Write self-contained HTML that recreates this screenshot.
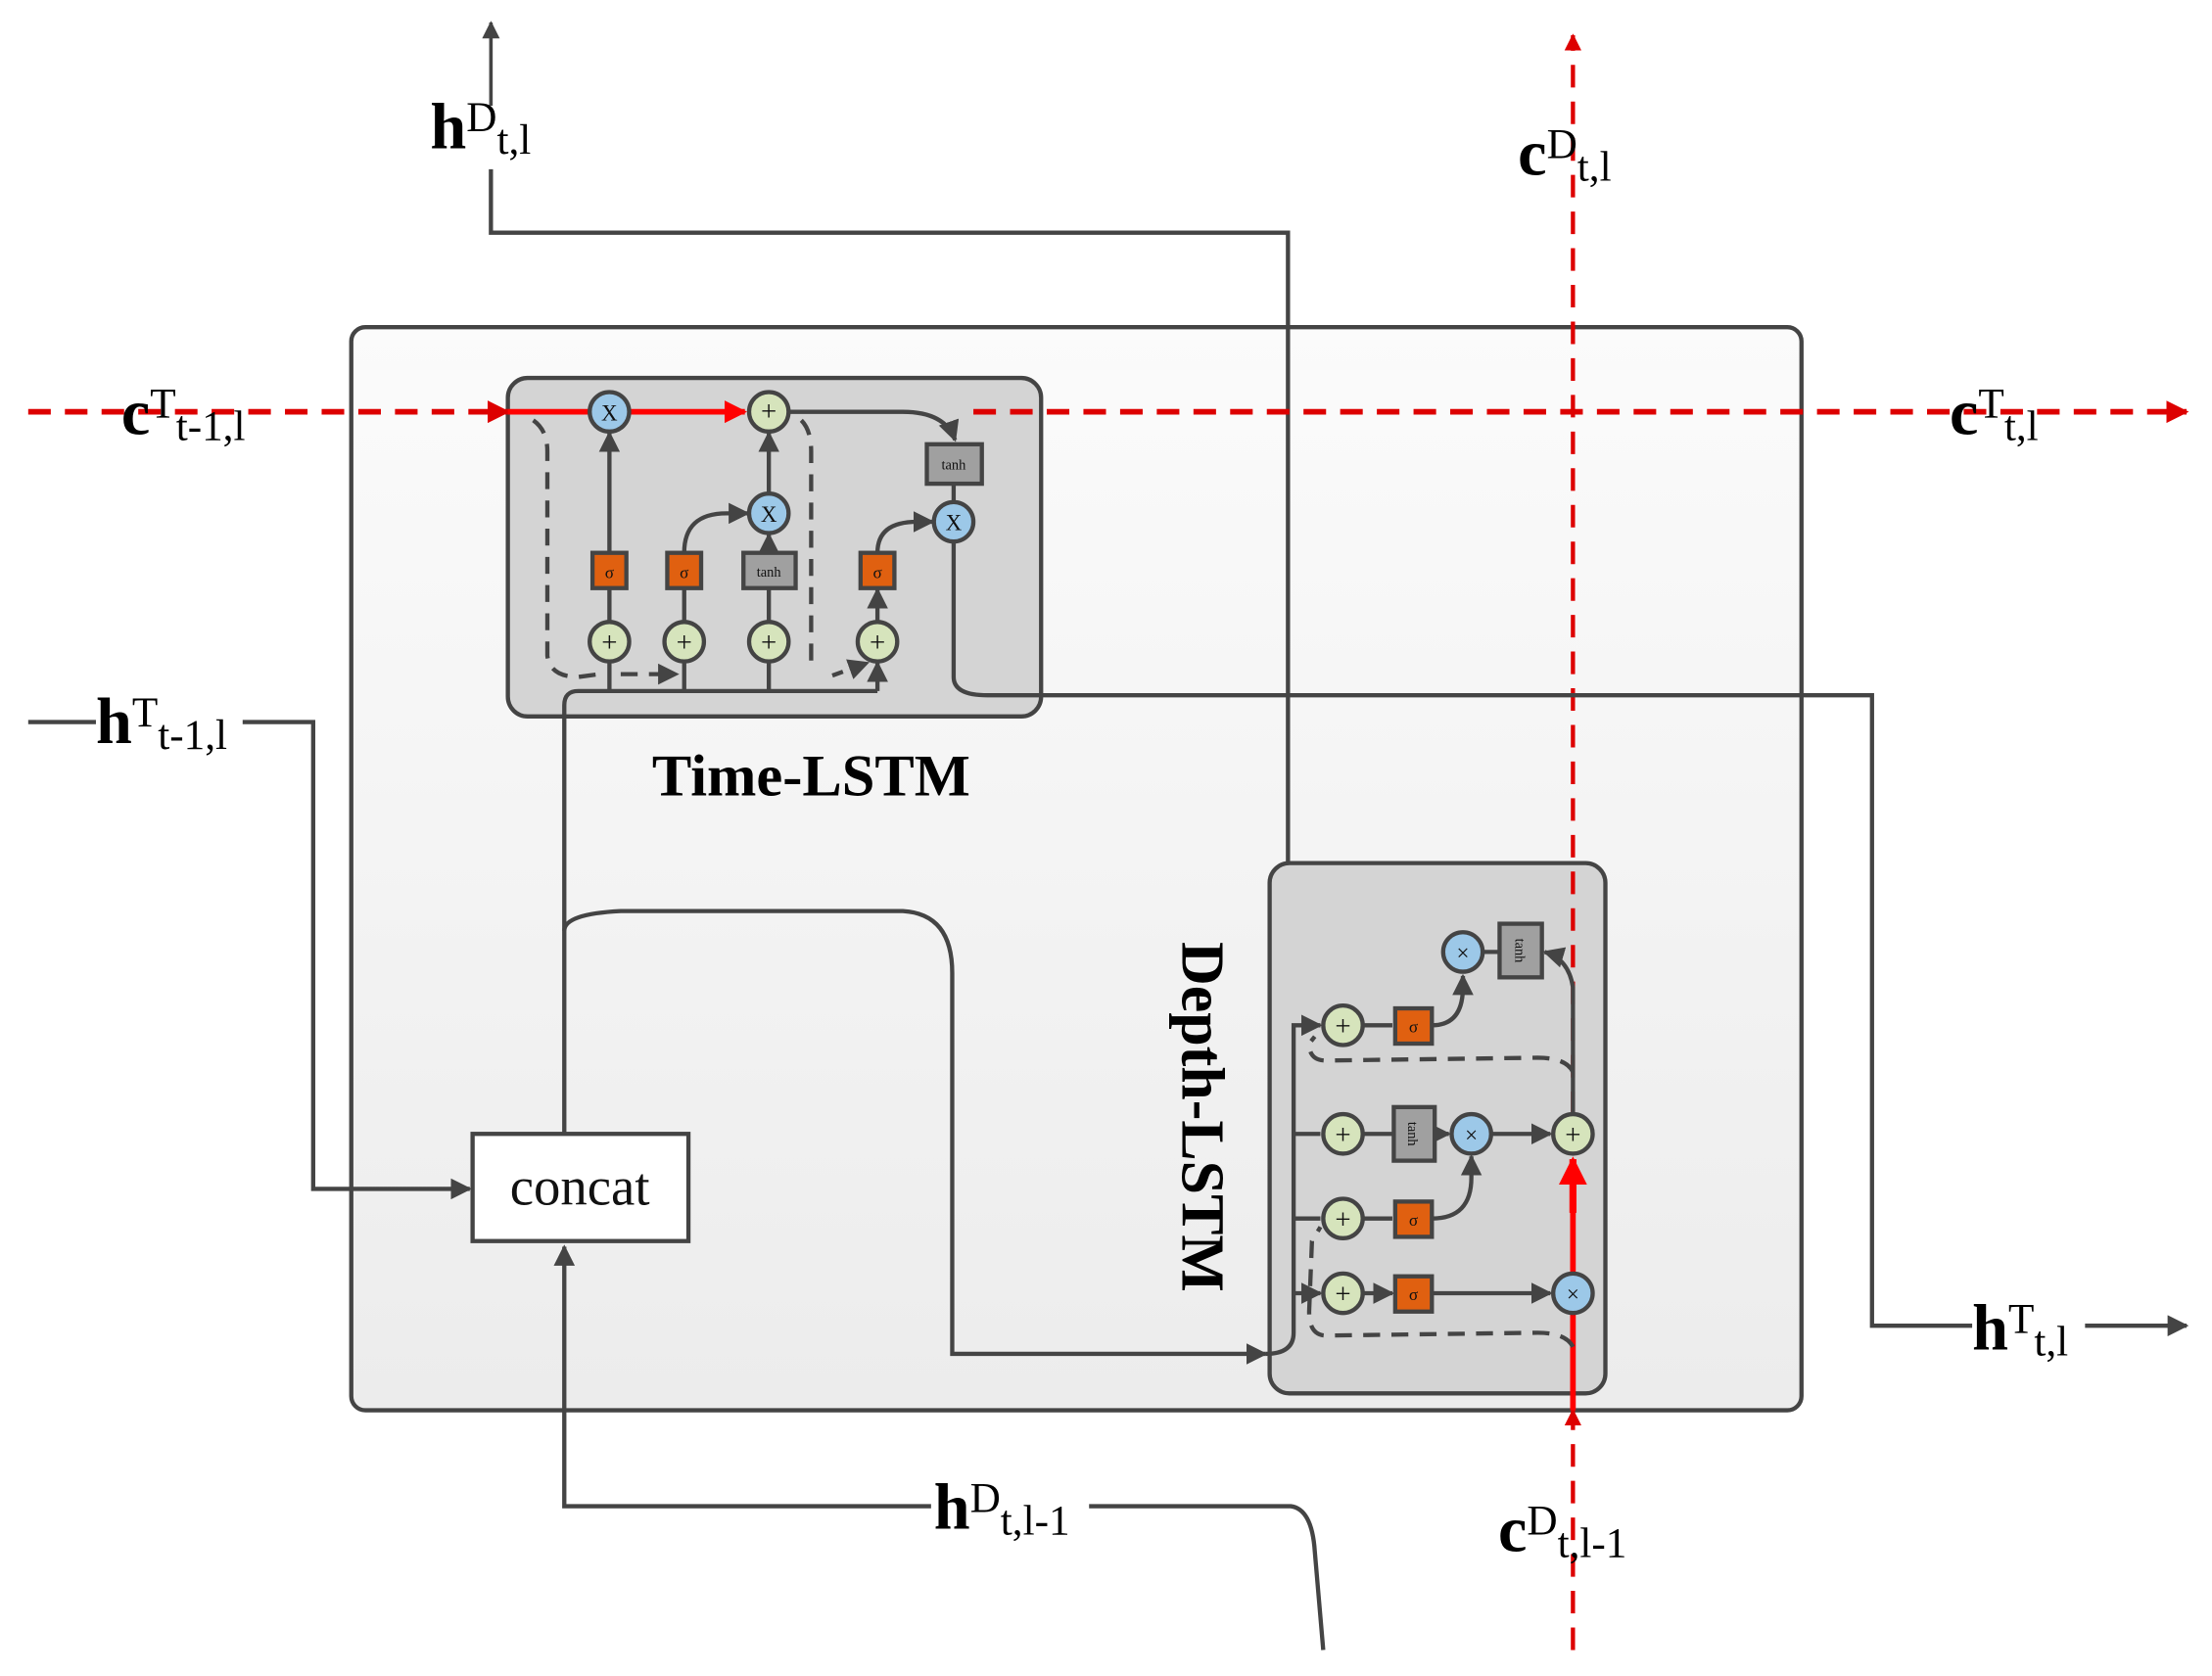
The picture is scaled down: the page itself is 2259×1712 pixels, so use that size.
<!DOCTYPE html>
<html><head><meta charset="utf-8"><style>
html,body{margin:0;padding:0;background:#fff;}
svg{display:block;}
text{font-family:"Liberation Serif",serif;}
</style></head><body>
<svg width="2259" height="1712" viewBox="0 0 1568 1188.4" preserveAspectRatio="none" xmlns="http://www.w3.org/2000/svg">
<defs>
<marker id="ag" viewBox="0 0 10 10" refX="9" refY="5" markerWidth="5" markerHeight="5" orient="auto"><path d="M0,0L10,5L0,10z" fill="#444"/></marker>
<marker id="ar" viewBox="0 0 10 10" refX="9" refY="5" markerWidth="4" markerHeight="4" orient="auto"><path d="M0,0L10,5L0,10z" fill="#d00"/></marker>
<marker id="ar2" viewBox="0 0 10 10" refX="9" refY="5" markerWidth="4" markerHeight="4" orient="auto"><path d="M0,0L10,5L0,10z" fill="#f00"/></marker>
<linearGradient id="og" x1="0" y1="0" x2="0" y2="1"><stop offset="0" stop-color="#fbfbfb"/><stop offset="1" stop-color="#ececec"/></linearGradient>
</defs>
<rect x="249" y="232" width="1028" height="768" rx="10" fill="url(#og)" stroke="#444" stroke-width="3"/>
<path d="M348,120 L348,165 L913,165 L913,670 Q913,675 925,675 L1022,675" fill="none" stroke="#444" stroke-width="3"/>
<path d="M348,75 L348,16" fill="none" stroke="#444" stroke-width="2.5" marker-end="url(#ag)"/>
<rect x="360" y="268" width="378" height="240" rx="14" fill="#d4d4d4" stroke="#444" stroke-width="3"/>
<rect x="900" y="612" width="238" height="376" rx="14" fill="#d4d4d4" stroke="#444" stroke-width="3"/>
<path d="M20,292 L360,292" stroke="#d00" stroke-width="4" stroke-dasharray="16,10" fill="none" marker-end="url(#ar)"/>
<path d="M360,292 L418,292 M446,292 L528,292" stroke="#f00" stroke-width="4" fill="none" marker-end="url(#ar2)"/>
<path d="M559,292 L640,292 Q670,292 677,312" stroke="#444" stroke-width="3" fill="none" marker-end="url(#ag)"/>
<path d="M690,292 L1550,292" stroke="#d00" stroke-width="4" stroke-dasharray="16,10" fill="none" marker-end="url(#ar)"/>
<path d="M1115,1170 L1115,1000" stroke="#d00" stroke-width="3" stroke-dasharray="16,10" fill="none" marker-end="url(#ar)"/>
<path d="M1115,1000 L1115,931 M1115,903 L1115,822" stroke="#f00" stroke-width="4" fill="none"/>
<path d="M1115,860 L1115,822" stroke="#f00" stroke-width="5" fill="none" marker-end="url(#ar2)"/>
<path d="M1115,790 L1115,25" stroke="#d00" stroke-width="3" stroke-dasharray="16,10" fill="none" marker-end="url(#ar)"/>
<path d="M20,512 L68,512 M172,512 L222,512 L222,843 L333,843" fill="none" stroke="#444" stroke-width="3" marker-end="url(#ag)"/>
<rect x="335" y="804" width="153" height="76" fill="#fff" stroke="#444" stroke-width="3"/>
<text x="411" y="854" font-size="38" text-anchor="middle" fill="#111">concat</text>
<path d="M400,804 L400,500 Q400,490 410,490 L622,490" fill="none" stroke="#444" stroke-width="3"/>
<path d="M400,660 Q400,648 440,646 L640,646 Q675,648 675,690 L675,960 L897,960" fill="none" stroke="#444" stroke-width="3" marker-end="url(#ag)"/>
<path d="M660,1068 L400,1068 L400,884" fill="none" stroke="#444" stroke-width="3" marker-end="url(#ag)"/>
<path d="M772,1068 L915,1068 Q930,1070 932,1100 L938,1170" fill="none" stroke="#444" stroke-width="3"/>
<path d="M676,384 L676,480 Q676,493 700,493 L1327,493 L1327,940 L1398,940 M1478,940 L1550,940" fill="none" stroke="#444" stroke-width="3" marker-end="url(#ag)"/>

<g stroke="#444" stroke-width="3" fill="none">
<path d="M432,490 L432,470 M485,490 L485,470 M545,490 L545,470 M622,490 L622,470" marker-end="url(#ag)"/>
<path d="M432,441 L432,418 M485,441 L485,418 M545,441 L545,418 M622,441 L622,418" marker-end="url(#ag)"/>
<path d="M432,392 L432,307" marker-end="url(#ag)"/>
<path d="M545,350 L545,307" marker-end="url(#ag)"/>
<path d="M545,392 L545,379" marker-end="url(#ag)"/>
<path d="M485,392 Q485,364 515,364 L530,364" marker-end="url(#ag)"/>
<path d="M622,392 Q622,370 650,370 L661,370" marker-end="url(#ag)"/>
<path d="M676,343 L676,356"/>
<path d="M378,298 Q388,305 388,320 L388,465 Q390,480 410,480 L425,478" stroke-dasharray="12,8"/>
<path d="M440,478 L480,478" stroke-dasharray="12,8" marker-end="url(#ag)"/>
<path d="M568,298 Q575,305 575,320 L575,470" stroke-dasharray="12,8"/>
<path d="M590,479 L615,470" stroke-dasharray="8,6" marker-end="url(#ag)"/>
</g>
<g stroke="#444" stroke-width="3">
<circle cx="432" cy="292" r="14" fill="#9cc8e8"/>
<circle cx="545" cy="292" r="14" fill="#d6e4bc"/>
<circle cx="545" cy="364" r="14" fill="#9cc8e8"/>
<circle cx="676" cy="370" r="14" fill="#9cc8e8"/>
<circle cx="432" cy="455" r="14" fill="#d6e4bc"/>
<circle cx="485" cy="455" r="14" fill="#d6e4bc"/>
<circle cx="545" cy="455" r="14" fill="#d6e4bc"/>
<circle cx="622" cy="455" r="14" fill="#d6e4bc"/>
<rect x="420" y="392" width="24" height="25" fill="#e06010"/>
<rect x="473" y="392" width="24" height="25" fill="#e06010"/>
<rect x="610" y="392" width="24" height="25" fill="#e06010"/>
<rect x="527" y="392" width="37" height="25" fill="#a0a0a0"/>
<rect x="657" y="315" width="39" height="28" fill="#a0a0a0"/>
</g>
<g font-family="Liberation Sans,sans-serif" font-size="16" text-anchor="middle" fill="#111">
<text x="432" y="298">X</text><text x="545" y="370">X</text><text x="676" y="376">X</text>
<text x="545" y="298" font-size="20">+</text>
<text x="432" y="462" font-size="20">+</text><text x="485" y="462" font-size="20">+</text><text x="545" y="462" font-size="20">+</text><text x="622" y="462" font-size="20">+</text>
<text x="432" y="410" font-size="12">σ</text><text x="485" y="410" font-size="12">σ</text><text x="622" y="410" font-size="12">σ</text>
<text x="545" y="409" font-size="10">tanh</text><text x="676" y="333" font-size="10">tanh</text>
</g>

<g stroke="#444" stroke-width="3" fill="none">
<path d="M897,960 Q917,960 917,945 L917,727 L936,727" marker-end="url(#ag)"/>
<path d="M917,804 L936,804 M917,864 L936,864 M917,917 L936,917" marker-end="url(#ag)"/>
<path d="M966,727 L987,727 M966,804 L987,804 M966,864 L987,864 M966,917 L987,917" marker-end="url(#ag)"/>
<path d="M1015,727 Q1037,727 1037,700 L1037,692" marker-end="url(#ag)"/>
<path d="M1015,864 Q1043,864 1043,835 L1043,820" marker-end="url(#ag)"/>
<path d="M1018,804 L1027,804" marker-end="url(#ag)"/>
<path d="M1057,804 L1099,804" marker-end="url(#ag)"/>
<path d="M1015,917 L1099,917" marker-end="url(#ag)"/>
<path d="M1051,675 L1063,675"/>
<path d="M1115,790 L1115,700 Q1112,680 1095,675" marker-end="url(#ag)"/>
<path d="M1115,760 Q1110,750 1090,750 L940,752 Q928,752 928,740 L932,735" stroke-dasharray="12,8"/>
<path d="M1115,955 Q1110,945 1090,945 L940,947 Q928,947 928,930 L930,880 L936,870" stroke-dasharray="12,8"/>
</g>
<g stroke="#444" stroke-width="3">
<circle cx="1037" cy="675" r="14" fill="#9cc8e8"/>
<circle cx="952" cy="727" r="14" fill="#d6e4bc"/>
<circle cx="952" cy="804" r="14" fill="#d6e4bc"/>
<circle cx="952" cy="864" r="14" fill="#d6e4bc"/>
<circle cx="952" cy="917" r="14" fill="#d6e4bc"/>
<circle cx="1043" cy="804" r="14" fill="#9cc8e8"/>
<circle cx="1115" cy="804" r="14" fill="#d6e4bc"/>
<circle cx="1115" cy="917" r="14" fill="#9cc8e8"/>
<rect x="989" y="715" width="26" height="25" fill="#e06010"/>
<rect x="989" y="852" width="26" height="25" fill="#e06010"/>
<rect x="989" y="905" width="26" height="25" fill="#e06010"/>
<rect x="988" y="785" width="29" height="38" fill="#a0a0a0"/>
<rect x="1063" y="655" width="30" height="38" fill="#a0a0a0"/>
</g>
<g font-family="Liberation Sans,sans-serif" font-size="16" text-anchor="middle" fill="#111">
<text x="1037" y="681">×</text><text x="1043" y="810">×</text><text x="1115" y="923">×</text>
<text x="952" y="734" font-size="20">+</text><text x="952" y="811" font-size="20">+</text><text x="952" y="871" font-size="20">+</text><text x="952" y="924" font-size="20">+</text><text x="1115" y="811" font-size="20">+</text>
<text x="1002" y="732" font-size="12">σ</text><text x="1002" y="869" font-size="12">σ</text><text x="1002" y="922" font-size="12">σ</text>
<text transform="translate(1002,804) rotate(90)" y="4" font-size="10">tanh</text>
<text transform="translate(1078,674) rotate(90)" y="4" font-size="10">tanh</text>
</g>

<g fill="#000">
<text x="305" y="105" font-size="46" font-weight="bold">h<tspan font-size="30" font-weight="normal" dy="-12">D</tspan><tspan font-size="30" font-weight="normal" dy="16">t,l</tspan></text>
<text x="1076" y="124" font-size="46" font-weight="bold">c<tspan font-size="30" font-weight="normal" dy="-12">D</tspan><tspan font-size="30" font-weight="normal" dy="16">t,l</tspan></text>
<text x="86" y="308" font-size="46" font-weight="bold">c<tspan font-size="30" font-weight="normal" dy="-12">T</tspan><tspan font-size="30" font-weight="normal" dy="16">t-1,l</tspan></text>
<text x="1382" y="308" font-size="46" font-weight="bold">c<tspan font-size="30" font-weight="normal" dy="-12">T</tspan><tspan font-size="30" font-weight="normal" dy="16">t,l</tspan></text>
<text x="68" y="527" font-size="46" font-weight="bold">h<tspan font-size="30" font-weight="normal" dy="-12">T</tspan><tspan font-size="30" font-weight="normal" dy="16">t-1,l</tspan></text>
<text x="1398" y="957" font-size="46" font-weight="bold">h<tspan font-size="30" font-weight="normal" dy="-12">T</tspan><tspan font-size="30" font-weight="normal" dy="16">t,l</tspan></text>
<text x="662" y="1084" font-size="46" font-weight="bold">h<tspan font-size="30" font-weight="normal" dy="-12">D</tspan><tspan font-size="30" font-weight="normal" dy="16">t,l-1</tspan></text>
<text x="1062" y="1100" font-size="46" font-weight="bold">c<tspan font-size="30" font-weight="normal" dy="-12">D</tspan><tspan font-size="30" font-weight="normal" dy="16">t,l-1</tspan></text>
<text x="575" y="564" font-size="42" font-weight="bold" text-anchor="middle">Time-LSTM</text>
<text transform="translate(838,792) rotate(90)" font-size="43" font-weight="bold" text-anchor="middle">Depth-LSTM</text>
</g>
</svg>
</body></html>
